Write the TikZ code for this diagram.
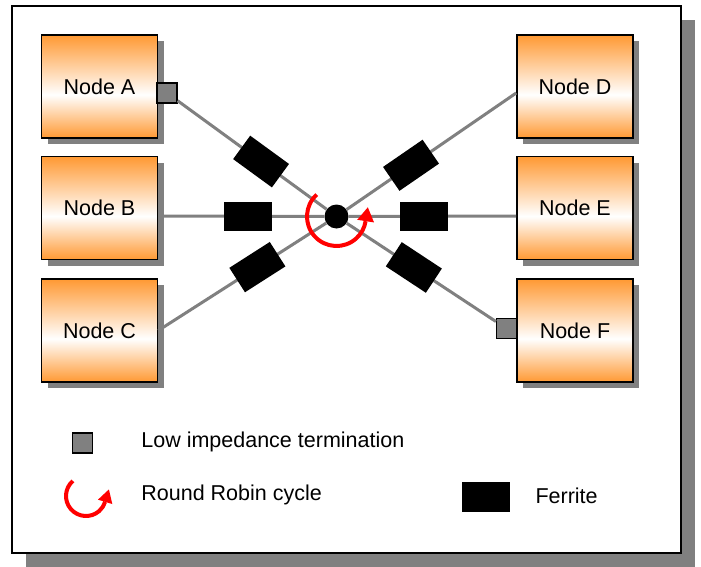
\documentclass[tikz,border=0pt]{standalone}
\usepackage{fontspec}
\setmainfont{Liberation Sans}
\usetikzlibrary{shadows}
\definecolor{nodeorange}{RGB}{255,153,51}
\definecolor{shadegray}{RGB}{128,128,128}
\definecolor{cyclered}{RGB}{255,0,0}
% orange - white - orange over the box height (25bp..75bp is the visible band)
\pgfdeclareverticalshading{stationshade}{100bp}{color(0bp)=(nodeorange); color(25bp)=(nodeorange); color(46bp)=(white); color(75bp)=(nodeorange); color(100bp)=(nodeorange)}
\begin{document}
\begin{tikzpicture}[x=1pt,y=1pt,
  station/.style={draw=black, line width=1.6pt, minimum width=116pt, minimum height=103pt, inner sep=0pt,
    shading=stationshade,
    general shadow={fill=shadegray, shadow xshift=6pt, shadow yshift=-6pt},
    font=\fontsize{21.5}{25}\selectfont},
  term/.style={draw=black, line width=1.2pt, fill=shadegray, minimum size=20pt, inner sep=0pt},
  ferrite/.style={fill=black, minimum width=48pt, minimum height=29pt, inner sep=0pt},
  wire/.style={draw=shadegray, line width=3pt},
  hubdot/.style={circle, fill=black, minimum size=24pt, inner sep=0pt},
  rrarc/.style={draw=cyclered, line width=4pt},
  legendtext/.style={anchor=base west, inner sep=0pt, font=\fontsize{21.5}{25}\selectfont}
]
\useasboundingbox (0,0) rectangle (701,-567);

% outer frame with its shadow
\fill[shadegray] (26,-20) rectangle (695,-567);
\draw[line width=1.6pt, fill=white] (12,-6) rectangle (681,-553);

% stations
\node[station] (A) at (99.5,-86.5) {Node A};
\node[station] (B) at (99.5,-208) {Node B};
\node[station] (C) at (99.5,-330.5) {Node C};
\node[station] (D) at (575,-86.5) {Node D};
\node[station] (E) at (575,-208) {Node E};
\node[station] (F) at (575,-330.5) {Node F};

% low impedance terminations
\node[term] (aterm) at (167,-93) {};
\node[term] (fterm) at (506.5,-328.5) {};

% central star point
\node[hubdot] (hub) at (336.5,-216.5) {};

% wires with ferrites
\draw[wire] (hub) -- (aterm) node[ferrite, sloped, pos=0.44] {};
\draw[wire] (hub) -- ([yshift=-6.5pt]D.west) node[ferrite, sloped, pos=0.38] {};
\draw[wire] (hub) -- ([yshift=-8pt]B.east) node[ferrite, pos=0.46] {};
\draw[wire] (hub) -- ([yshift=-8pt]E.west) node[ferrite, pos=0.45] {};
\draw[wire] (hub) -- (C.east) node[ferrite, sloped, pos=0.41] {};
\draw[wire] (hub) -- (fterm) node[ferrite, sloped, pos=0.45] {};

% round robin cycle around the star point
\draw[rrarc] ([shift={(132:29.5pt)}]hub.center) arc[start angle=132, end angle=351, radius=29.5pt];
\fill[cyclered] ([shift={(37.54pt,-5.94pt)}]hub.center) -- ([shift={(31.32pt,9.22pt)}]hub.center)
  -- ([shift={(20.74pt,-3.28pt)}]hub.center) -- cycle;

% legend
\node[term] (legterm) at (82.5,-443) {};
\node[legendtext] (legtermtext) at (141.2,-447) {Low impedance termination};

\coordinate (legcyc) at (86,-496);
\draw[rrarc] ([shift={(131:20pt)}]legcyc) arc[start angle=131, end angle=343, radius=20pt];
\fill[cyclered] ([shift={(26.3pt,-8.04pt)}]legcyc) -- ([shift={(22.9pt,6.58pt)}]legcyc)
  -- ([shift={(11.96pt,-3.66pt)}]legcyc) -- cycle;
\node[legendtext] (legcyctext) at (141.2,-500) {Round Robin cycle};

\node[ferrite, minimum height=30pt] (legferrite) at (486,-497) {};
\node[legendtext] (legferritetext) at (535.3,-503) {Ferrite};
\end{tikzpicture}
\end{document}
